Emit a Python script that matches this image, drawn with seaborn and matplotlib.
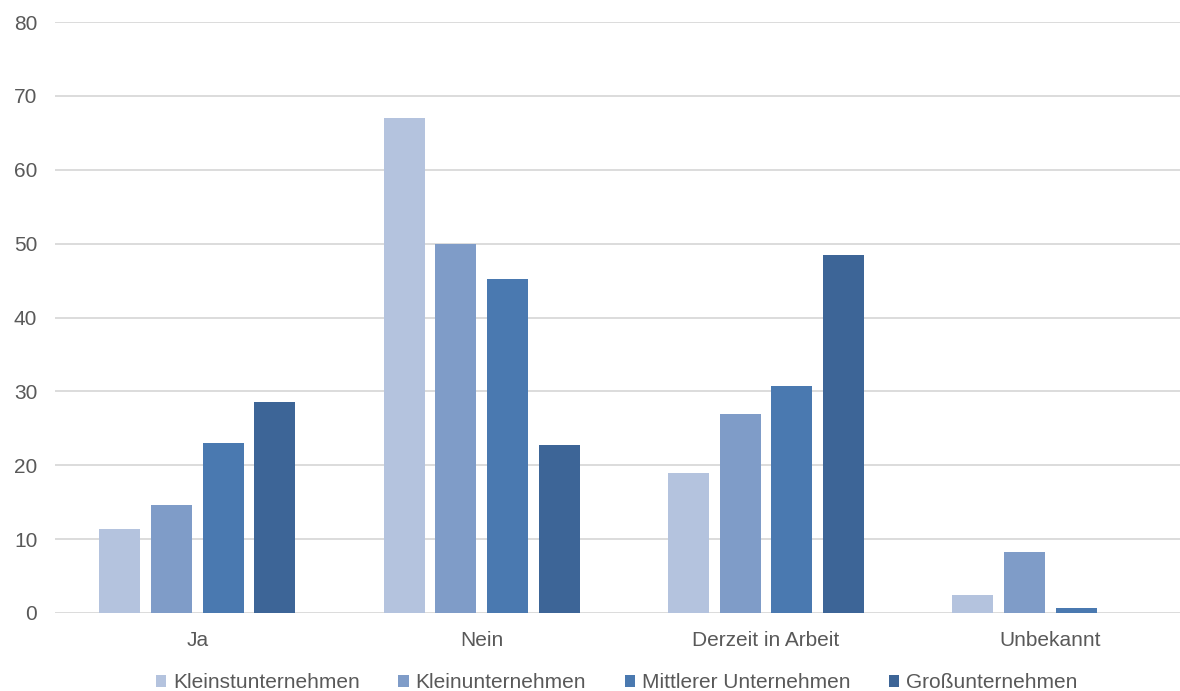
import matplotlib
matplotlib.use("Agg")
import matplotlib.pyplot as plt
import seaborn as sns
import pandas as pd
from matplotlib.patches import Patch

categories = ["Ja", "Nein", "Derzeit in Arbeit", "Unbekannt"]
series = ["Kleinstunternehmen", "Kleinunternehmen", "Mittlerer Unternehmen", "Großunternehmen"]
kleinst = [11.3, 67.0, 18.9, 2.4]
klein = [14.6, 50.0, 26.9, 8.2]
mittel = [23.0, 45.2, 30.7, 0.7]
gross = [28.6, 22.8, 48.5, 0.0]
colors = ["#B4C3DE", "#7F9CC8", "#4A79B0", "#3D6597"]
yticks = [0, 10, 20, 30, 40, 50, 60, 70, 80]

rows = []
for s, vals in zip(series, [kleinst, klein, mittel, gross]):
    for c, v in zip(categories, vals):
        rows.append({"Kategorie": c, "Größe": s, "Wert": v})
df = pd.DataFrame(rows)

sns.set_theme(style="white")
plt.rcParams["font.family"] = ["Liberation Sans", "DejaVu Sans"]

fig = plt.figure(figsize=(11.8, 6.91), dpi=100)
ax = fig.add_axes([0.0469, 0.113, 0.9636, 0.855])

sns.barplot(data=df, x="Kategorie", y="Wert", hue="Größe", order=categories,
            hue_order=series, palette=colors, width=0.727, gap=0.207,
            saturation=1, ax=ax, legend=False, linewidth=0)

ax.set_ylim(0, 80)
ax.set_xlim(-0.5, 3.5)
ax.set_yticks(yticks)
ax.yaxis.grid(True, color="#D9D9D9", linewidth=1.3)
ax.set_axisbelow(True)
for sp in ax.spines.values():
    sp.set_visible(False)
ax.set_xlabel("")
ax.set_ylabel("")
ax.tick_params(axis="both", length=0, labelsize=15, labelcolor="#595959")
ax.tick_params(axis="y", pad=13)
ax.tick_params(axis="x", pad=13)

handles = [Patch(facecolor=c, edgecolor="none", label=s) for s, c in zip(series, colors)]
fig.legend(handles=handles, loc="center", bbox_to_anchor=(0.5225, 0.0116), ncol=4,
           frameon=False, fontsize=15, handlelength=0.5, handleheight=0.5,
           handletextpad=0.33, columnspacing=1.85, labelcolor="#595959",
           borderpad=0, borderaxespad=0)

fig.savefig("out.png", dpi=100)
